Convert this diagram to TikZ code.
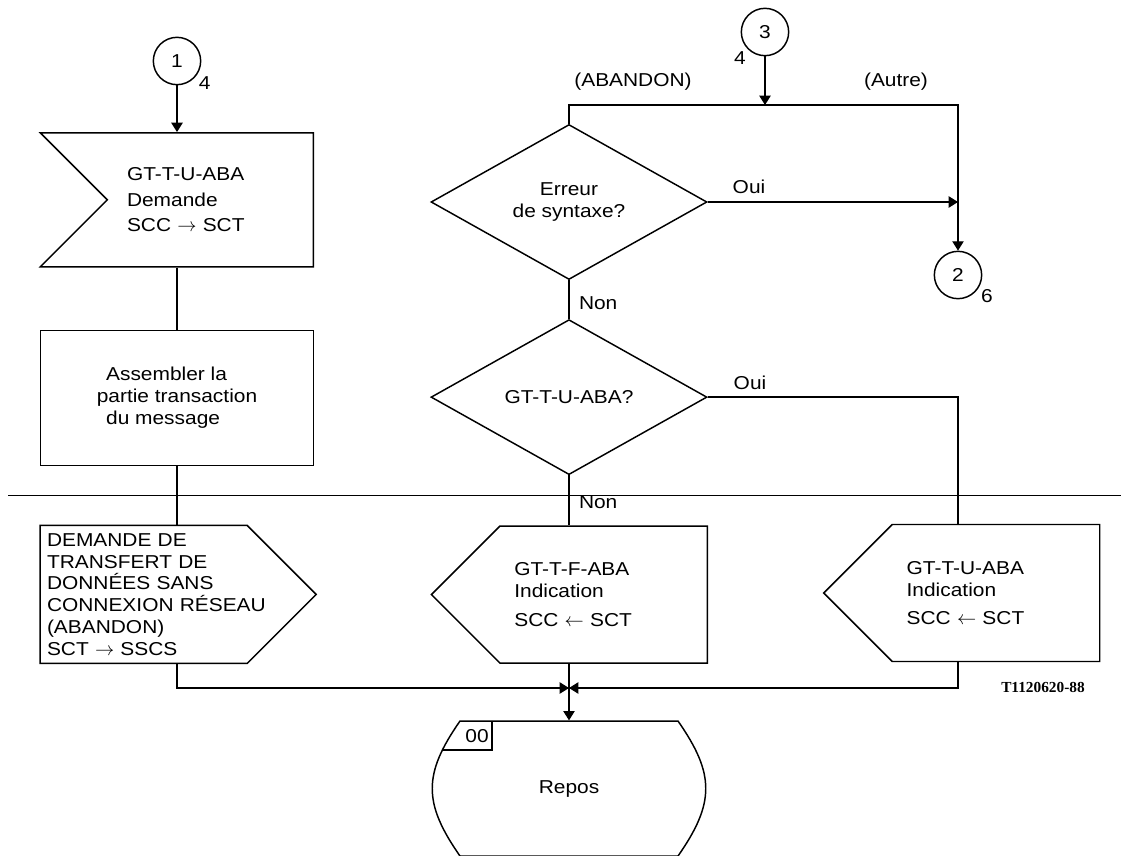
\documentclass[tikz,border=0pt]{standalone}
\usepackage{fontspec}
\setmainfont[FakeStretch=1.12]{Liberation Sans}
\newfontfamily\tagfont{Liberation Serif}
\usetikzlibrary{shapes,arrows,arrows.meta,positioning,calc}

\begin{document}
\begin{tikzpicture}[x=0.75pt, y=-0.75pt, line width=1pt, font=\fontsize{14}{16.3}\selectfont]
    \tikzstyle{conn} = [circle, draw, line width=1.1pt, minimum size=35.5pt, inner sep=0pt]
    \tikzstyle{recv} = [signal, signal from=west, signal to=nowhere, signal pointer angle=90, draw, line width=1.1pt, minimum width=204.75pt, minimum height=100.5pt, text width=125pt, align=left]
    \tikzstyle{task} = [rectangle, draw, line width=1.1pt, minimum width=204.75pt, minimum height=101.25pt, align=left]
    \tikzstyle{sendr} = [signal, signal to=east, signal pointer angle=90, draw, line width=1.1pt, minimum width=207pt, minimum height=103.5pt, text width=145pt, align=left]
    \tikzstyle{sendl} = [signal, signal to=west, signal pointer angle=90, draw, line width=1.1pt, minimum width=207pt, minimum height=102.75pt, text width=134pt, align=left]
    \tikzstyle{dec} = [diamond, draw, line width=1.1pt, minimum width=207pt, minimum height=116.25pt, inner sep=0pt, align=center]
    \tikzstyle{state} = [rectangle, minimum width=205.5pt, minimum height=101.25pt]
    \tikzstyle{lbl} = [inner sep=1pt]
    \tikzstyle{arrow} = [->, >={Triangle[length=7pt,width=8.5pt]}]

    \useasboundingbox (0,0) rectangle (1121,856);

    % Left column
    \node [conn, label={[lbl]-35:4}] (c1) at (177,61) {1};
    \node [recv, below=35pt of c1, xshift=25pt] (rcv) {GT-T-U-ABA\\[3pt]Demande\\[3pt]SCC $\rightarrow$ SCT};
    \node [task, below=46.5pt of rcv, xshift=-25pt] (task) {\hspace*{7pt}Assembler la\\partie transaction\\\hspace*{7pt}du message};
    \node [sendr, below=44pt of task, xshift=-25pt] (out1) {DEMANDE DE\\TRANSFERT DE\\DONNÉES SANS\\\mbox{CONNEXION RÉSEAU}\\(ABANDON)\\SCT $\rightarrow$ SSCS};

    % Decisions
    \node [dec] (d1) at (569,202) {Erreur\\de syntaxe?};
    \node [dec, below=29pt of d1] (d2) {GT-T-U-ABA?};
    \node [sendl, below=37.5pt of d2, xshift=26pt] (out2) {GT-T-F-ABA\\Indication\\[5pt]SCC $\leftarrow$ SCT};
    \node [state, below=42.4pt of out2, xshift=-26pt] (repos) {Repos};

    % Right side
    \node [conn, label={[lbl]-135:4}] (c3) at (765,32) {3};
    \node [conn, label={[lbl]-30:6}] (c2) at (958,275) {2};
    \node [sendl] (out3) at (996,593) {GT-T-U-ABA\\Indication\\[5pt]SCC $\leftarrow$ SCT};
    \coordinate (top) at (765,105);
    \coordinate (mrg) at (569,688);

    % Labels
    \node [lbl] (aband) at (633,82) {(ABANDON)};
    \node [lbl] (autre) at (896,82) {(Autre)};
    \node [lbl] (oui1) at (749,187) {Oui};
    \node [lbl, anchor=west] (non1) at (577,303) {Non};
    \node [lbl] (oui2) at (750,383) {Oui};
    \node [lbl, anchor=west] (non2) at (577,502) {Non};
    \node [lbl, font=\tagfont\bfseries\fontsize{11.5}{13}\selectfont] (ref) at (1043,687) {T1120620-88};

    % State symbol
    \begin{scope}[shift={(repos.center)}, line width=1.1pt]
        \draw (-109,-67.5) -- (109,-67.5) .. controls (146,-14.5) and (146,14.5) .. (109,67.5)
            -- (-109,67.5) .. controls (-146,14.5) and (-146,-14.5) .. cycle;
        \draw (-127,-38.5) -- (-77,-38.5) -- (-77,-67.5);
        \node [lbl] (zero) at (-92,-52) {00};
    \end{scope}

    % Page break line
    \draw [line width=0.6pt] (8,495) -- (1121,495);

    % Arrows
    \draw [arrow] (c1) -- (c1 |- rcv.north);
    \draw (c1 |- rcv.south) -- (task);
    \draw (task) -- (task |- out1.north);

    \draw [arrow] (c3) -- (top);
    \draw [arrow] (d1.north) |- (top) -| (c2.north);
    \draw [arrow] (d1.east) -- (d1.east -| c2);
    \draw (d1) -- (d2);
    \draw (d2) -- (d2 |- out2.north);
    \draw (d2.east) -| (c2 |- out3.north);

    \draw (mrg |- out2.south) -- (mrg);
    \draw [arrow] (task |- out1.south) |- (mrg);
    \draw [arrow] (c2 |- out3.south) |- (mrg);
    \draw [arrow] (mrg) -- (repos);
\end{tikzpicture}
\end{document}
